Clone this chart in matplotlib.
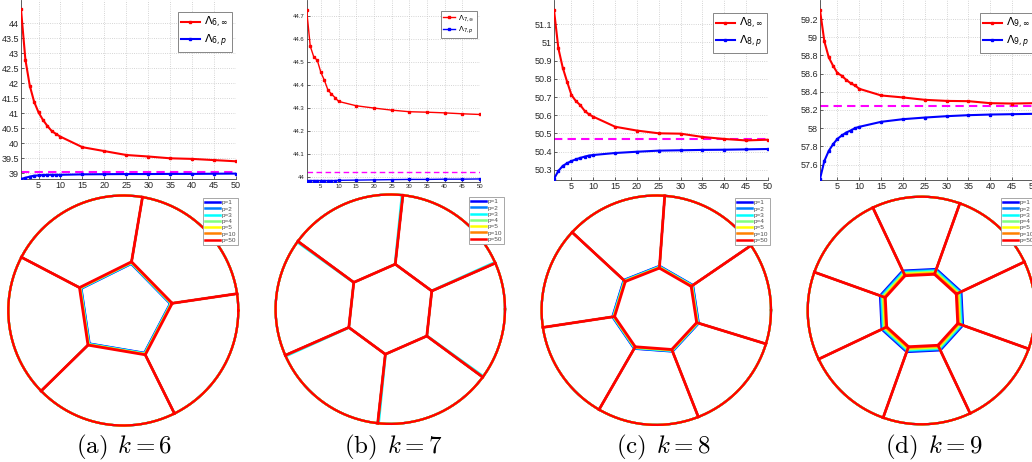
import numpy as np
import matplotlib
matplotlib.use('Agg')
import matplotlib.pyplot as plt
from matplotlib.lines import Line2D

plt.rcParams['font.family'] = ['Liberation Sans', 'DejaVu Sans']
plt.rcParams['mathtext.fontset'] = 'dejavusans'

W, H = 1032, 462

# ---------------- data ----------------
p_values = [1, 2, 3, 4, 5, 6, 7, 8, 9, 10, 15, 20, 25, 30, 35, 40, 45, 50]

lam6_inf = [44.46, 42.78, 41.91, 41.37, 41.02, 40.77, 40.57, 40.40, 40.30, 40.21,
            39.86, 39.73, 39.60, 39.55, 39.49, 39.47, 39.43, 39.39]
lam6_p = [38.80, 38.84, 38.88, 38.91, 38.92, 38.93, 38.94, 38.94, 38.94, 38.94,
          38.955, 38.96, 38.965, 38.965, 38.97, 38.97, 38.975, 38.98]
lam6_ref = 39.03

lam7_inf = [44.725, 44.569, 44.522, 44.507, 44.455, 44.42, 44.378, 44.36, 44.345, 44.328,
            44.309, 44.299, 44.29, 44.283, 44.281, 44.278, 44.274, 44.271]
lam7_p = [43.983, 43.983, 43.983, 43.983, 43.983, 43.983, 43.983, 43.983, 43.983, 43.984,
          43.985, 43.986, 43.987, 43.988, 43.988, 43.989, 43.989, 43.990]
lam7_ref = 44.022

lam8_inf = [51.177, 50.967, 50.861, 50.784, 50.711, 50.678, 50.656, 50.625, 50.605, 50.592,
            50.537, 50.516, 50.501, 50.499, 50.481, 50.470, 50.462, 50.466]
lam8_p = [50.251, 50.295, 50.322, 50.337, 50.349, 50.358, 50.366, 50.373, 50.379, 50.382,
          50.393, 50.400, 50.406, 50.408, 50.410, 50.411, 50.413, 50.415]
lam8_ref = 50.472

lam9_inf = [59.30, 58.954, 58.78, 58.686, 58.606, 58.576, 58.532, 58.495, 58.47, 58.433,
            58.36, 58.338, 58.312, 58.30, 58.297, 58.275, 58.271, 58.275]
lam9_p = [57.442, 57.64, 57.75, 57.824, 57.883, 57.92, 57.952, 57.974, 58.0, 58.015,
          58.07, 58.099, 58.117, 58.132, 58.143, 58.15, 58.154, 58.158]
lam9_ref = 58.242

k_values = [6, 7, 8, 9]
panel_letters = ['a', 'b', 'c', 'd']

# partition geometry (unit disk): number of inner-cell sides, rotation (deg),
# radius of inner cell for p=50, and radial shift of each p curve
inner_sides = [5, 6, 7, 8]
inner_rot = [8.4, 23.7, 34.35, 25.3]
inner_radius = [0.43, 0.395, 0.368, 0.338]
p_labels = ['p=1', 'p=2', 'p=3', 'p=4', 'p=5', 'p=10', 'p=50']
p_shift = [
    [-0.020, -0.017, -0.014, -0.010, -0.007, -0.004, 0.0],
    [0.0, 0.0, 0.0, 0.0, 0.0, 0.0, 0.0],
    [0.020, 0.017, 0.013, 0.010, 0.007, 0.004, 0.0],
    [0.050, 0.042, 0.034, 0.026, 0.018, 0.010, 0.0],
]
p_rot = [
    [0, 0, 0, 0, 0, 0, 0],
    [0, 0, 0.6, 0, 0, 0, 0],
    [0, 0, 0, 0, 0, 0, 0],
    [0, 0, 0, 0, 0, 0, 0],
]
p_colors = [(0, 0, 1), (0, 0.5, 1), (0, 1, 1), (0.5, 1, 0.5), (1, 1, 0), (1, 0.5, 0), (1, 0, 0)]

# ---------------- layout ----------------
fig = plt.figure(figsize=(W / 100, H / 100), dpi=100)


def rect(l, t, r, b):
    return [l / W, 1 - b / H, (r - l) / W, (b - t) / H]


top_specs = [
    # left, right, top, bottom, ylim, yticks, fontsize, legend upper-right (px), legend fs
    (21, 236, 0, 179, (38.8, 44.767), np.arange(39, 44.01, 0.5), 6.5, (232, 12), 8),
    (306.7, 480, 0, 181.7, (43.978, 44.77), np.arange(44.0, 44.71, 0.1), 4.3, (477, 11), 5.2),
    (554, 768, 0, 180, (50.245, 51.232), np.arange(50.3, 51.11, 0.1), 6.5, (767, 13), 8),
    (820, 1034, 0, 180, (57.43, 59.41), np.arange(57.6, 59.21, 0.2), 6.5, (1034, 13), 8),
]
series_inf = [lam6_inf, lam7_inf, lam8_inf, lam9_inf]
series_p = [lam6_p, lam7_p, lam8_p, lam9_p]
series_ref = [lam6_ref, lam7_ref, lam8_ref, lam9_ref]

for i, spec in enumerate(top_specs):
    l, r, t, b, ylim, yt, fs, legpos, lfs = spec
    ax = fig.add_axes(rect(l, t, r, b))
    small = (i == 1)
    lw = 1.0 if small else 1.5
    ms = 1.5 if small else 2.0
    ax.axhline(series_ref[i], color=(1, 0, 1), lw=lw, ls=(0, (4, 2.5)), zorder=2)
    ax.plot(p_values, series_inf[i], color=(1, 0, 0), lw=lw, marker='s', ms=ms,
            zorder=3, label=r'$\Lambda_{%d,\infty}$' % k_values[i])
    ax.plot(p_values, series_p[i], color=(0, 0, 1), lw=lw, marker='s', ms=ms,
            zorder=3, label=r'$\Lambda_{%d,p}$' % k_values[i])
    ax.set_xlim(1, 50)
    ax.set_ylim(*ylim)
    ax.set_xticks(np.arange(5, 51, 5))
    ax.set_yticks(yt)
    ax.set_yticklabels(['%g' % round(v, 2) for v in yt])
    ax.grid(True, ls=':', color='0.78', lw=0.6)
    ax.set_axisbelow(True)
    for s in ['top', 'right']:
        ax.spines[s].set_visible(False)
    for s in ['left', 'bottom']:
        ax.spines[s].set_color('0.25')
        ax.spines[s].set_linewidth(0.6)
    ax.tick_params(direction='in', length=2, width=0.5, labelsize=fs, pad=1.5,
                   colors='0.15')
    ax.patch.set_alpha(0)
    leg = ax.legend(loc='upper right', bbox_to_anchor=(legpos[0] / W, 1 - legpos[1] / H),
                    bbox_transform=fig.transFigure, fontsize=lfs, frameon=True,
                    fancybox=False, framealpha=1, edgecolor='0.45',
                    handlelength=1.7, handletextpad=0.4, labelspacing=0.2,
                    borderpad=0.3, borderaxespad=0)
    leg.get_frame().set_linewidth(0.6)

# ---------------- disks ----------------
disk_specs = [
    (123.3, 310.5, 115.0, (238, 198)),
    (390.3, 309.2, 114.7, (504, 197)),
    (656.3, 310.2, 114.7, (770, 198)),
    (921.5, 310.5, 113.8, (1036, 198)),
]

theta = np.linspace(0, 2 * np.pi, 400)
for i, (cx, cy, rad, legpos) in enumerate(disk_specs):
    ax = fig.add_axes(rect(cx - rad, cy - rad, cx + rad, cy + rad))
    ax.set_xlim(-1, 1)
    ax.set_ylim(-1, 1)
    ax.set_aspect('equal')
    ax.axis('off')
    n = inner_sides[i]
    handles = []
    for j in range(7):
        ang = np.deg2rad(inner_rot[i] + p_rot[i][j] + 360.0 / n * np.arange(n))
        rr = inner_radius[i] + p_shift[i][j]
        vx = rr * np.cos(ang)
        vy = rr * np.sin(ang)
        lw_j = 2.0 if j == 6 else 1.5
        ax.plot(np.append(vx, vx[0]), np.append(vy, vy[0]), color=p_colors[j],
                lw=lw_j, clip_on=False, solid_joinstyle='miter', zorder=3 + j)
        for m in range(n):
            ax.plot([vx[m], np.cos(ang[m])], [vy[m], np.sin(ang[m])],
                    color=p_colors[j], lw=lw_j, clip_on=False, zorder=3 + j)
        ax.plot(np.cos(theta), np.sin(theta), color=p_colors[j], lw=1.6,
                clip_on=False, zorder=3 + j)
        handles.append(Line2D([], [], color=p_colors[j], lw=1.8))
    leg = ax.legend(handles, p_labels, loc='upper right',
                    bbox_to_anchor=(legpos[0] / W, 1 - legpos[1] / H),
                    bbox_transform=fig.transFigure, fontsize=4.6, frameon=True,
                    fancybox=False, framealpha=1, edgecolor='0.6',
                    handlelength=2.3, handletextpad=0.3, labelspacing=0.12,
                    borderpad=0.3, borderaxespad=0)
    leg.get_frame().set_linewidth(0.6)
    for txt in leg.get_texts():
        txt.set_color('0.3')
    leg.set_zorder(20)

# ---------------- captions ----------------
caption_x = [124, 393, 663, 934]
for i in range(4):
    fig.text(caption_x[i] / W, 1 - 447 / H,
             r'$\mathrm{(%s)}\;\,k = %d$' % (panel_letters[i], k_values[i]),
             ha='center', va='center', fontsize=18, math_fontfamily='cm')

fig.savefig('out.png', dpi=100)
